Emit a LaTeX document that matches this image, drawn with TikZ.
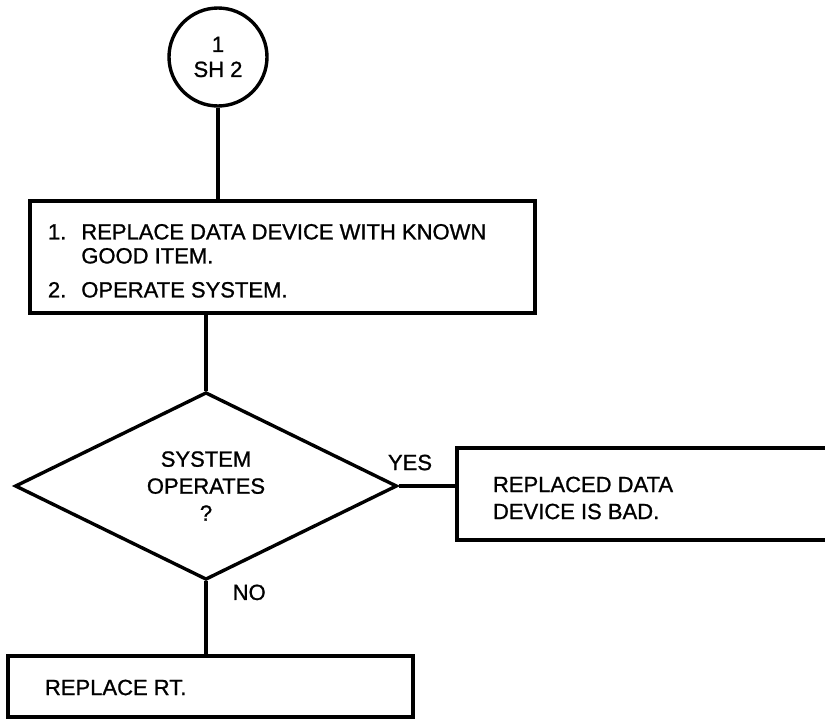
\documentclass[tikz,border=0pt]{standalone}
\usepackage{fontspec}
\setmainfont{Liberation Sans}[FakeBold=1]
\usetikzlibrary{shapes.geometric}

\begin{document}
\begin{tikzpicture}[x=1pt,y=-1pt,line width=3.4pt,
    txt/.style={font=\fontsize{22}{27}\selectfont,inner sep=0pt},
    box/.style={draw,rectangle,inner sep=0pt}]
  \useasboundingbox (0,0) rectangle (825,723);
  % connector sheet
  \node[draw,circle,minimum size=98pt,inner sep=0pt,txt,align=center] (sh) at (218,57) {1\\[-2pt]SH 2};
  % actions
  \node[box,minimum width=505pt,minimum height=112pt] (act) at (282.5,257) {};
  \node[txt,anchor=west] (acttext) at ([xshift=18pt,yshift=-6pt]act.west)
    {\begin{tabular}{@{}l@{\hspace{15pt}}l@{}}
      1. & REPLACE DATA DEVICE WITH KNOWN\\[-3pt]
         & GOOD ITEM.\\[7pt]
      2. & OPERATE SYSTEM.
     \end{tabular}};
  % decision
  \node[draw,diamond,inner sep=0pt,minimum width=382pt,minimum height=186pt,
        txt,align=center] (q) at (206,486) {SYSTEM\\OPERATES\\?};
  \node[box,minimum width=400pt,minimum height=92pt] (bad) at (657,494) {};
  \node[txt,anchor=west,align=left] (badtext) at ([xshift=36pt,yshift=-4pt]bad.west)
    {REPLACED DATA\\DEVICE IS BAD.};
  \node[box,minimum width=405pt,minimum height=61pt] (rt) at (210.5,686.5) {};
  \node[txt,anchor=west] (rttext) at ([xshift=37pt,yshift=-1pt]rt.west) {REPLACE RT.};
  % flow lines
  \draw (sh.south) -- (sh.south |- act.north);
  \draw (q.north |- act.south) -- (q.north);
  \draw (q.east) -- (q.east -| bad.west) node[txt,pos=0.2,above=14pt] (yes) {YES};
  \draw (q.south) -- (q.south |- rt.north) node[txt,pos=0.15,right=25pt] (no) {NO};
\end{tikzpicture}
\end{document}
